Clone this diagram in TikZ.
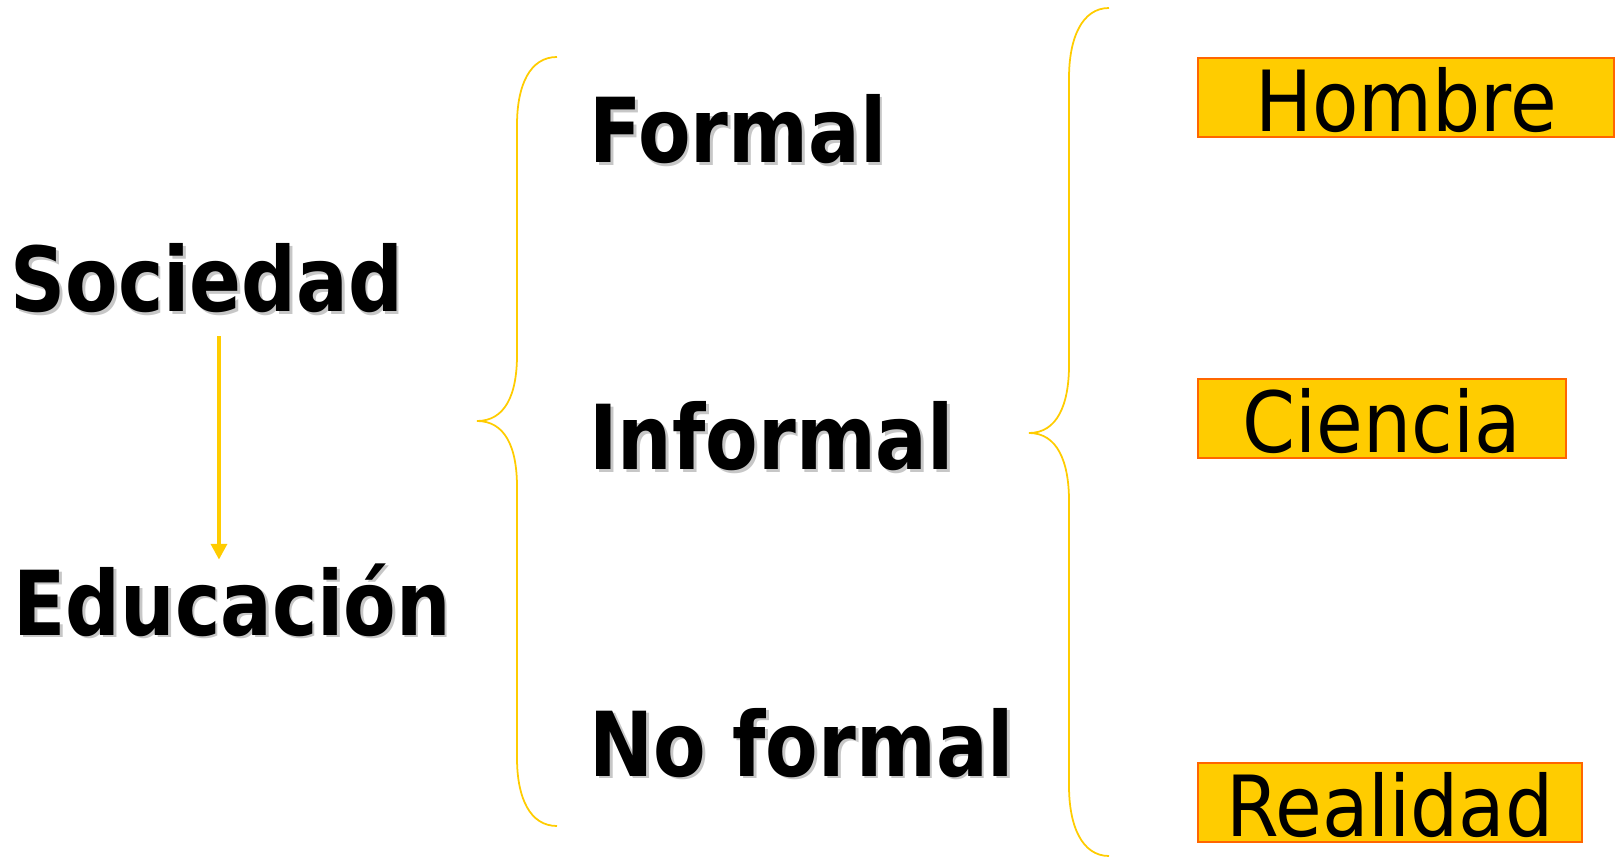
\documentclass[tikz,border=0pt]{standalone}
\usepackage{fontspec}
\setmainfont{DejaVu Sans Condensed}
\usetikzlibrary{arrows.meta}
\definecolor{amarillo}{HTML}{FFCC00}
\definecolor{naranja}{HTML}{FF6600}
\newcommand{\sombra}[1]{\scalebox{0.95}[1]{\makebox[0pt][l]{\hspace{1.6pt}\raisebox{-1.6pt}{\textcolor{black!22}{#1}}}#1}}

\begin{document}
\begin{tikzpicture}[x=0.02cm, y=-0.02cm,
    titulo/.style={anchor=base west, inner sep=0pt, text height=1.3cm, text depth=0pt, font=\fontsize{51}{51}\selectfont\bfseries},
    caja/.style={anchor=north west, inner sep=0pt, fill=amarillo, draw=naranja, line width=1.1pt, minimum height=1.58cm, text height=1.48cm, text depth=0.1cm, font=\fontsize{48}{48}\selectfont},
    llave/.style={amarillo, line width=1pt},
    flecha/.style={amarillo, line width=2.2pt, -{Triangle[width=9pt,length=9pt]}}]
    \useasboundingbox (0,0) rectangle (1618,857);

    \node[titulo] (soc) at (10,312) {\sombra{Sociedad}};
    \node[titulo] (edu) at (13,635) {\sombra{Educación}};

    \draw[flecha, shorten <=0.48cm, shorten >=0.2cm] ([xshift=7]soc.south) -- ([xshift=7]soc.south |- edu.north);

    \draw[llave] (557,57) .. controls (530,57) and (517,85) .. (517,125) -- (517,355) .. controls (517,395) and (505,421) .. (477,421) .. controls (505,421) and (517,447) .. (517,487) -- (517,758) .. controls (517,798) and (530,826) .. (557,826);

    \node[titulo] (for) at (589,163) {\sombra{Formal}};
    \node[titulo] (inf) at (589,470) {\sombra{Informal}};
    \node[titulo] (nof) at (589,776) {\sombra{No formal}};

    \draw[llave] (1109,8) .. controls (1082,8) and (1069,38) .. (1069,78) -- (1069,365) .. controls (1069,405) and (1057,433) .. (1029,433) .. controls (1057,433) and (1069,461) .. (1069,501) -- (1069,786) .. controls (1069,826) and (1082,856) .. (1109,856);

    \node[caja, minimum width=8.32cm] (hom) at (1197,57) {Hombre};
    \node[caja, minimum width=7.36cm] (cie) at (1197,378) {Ciencia};
    \node[caja, minimum width=7.68cm] (rea) at (1197,762) {Realidad};

\end{tikzpicture}
\end{document}
